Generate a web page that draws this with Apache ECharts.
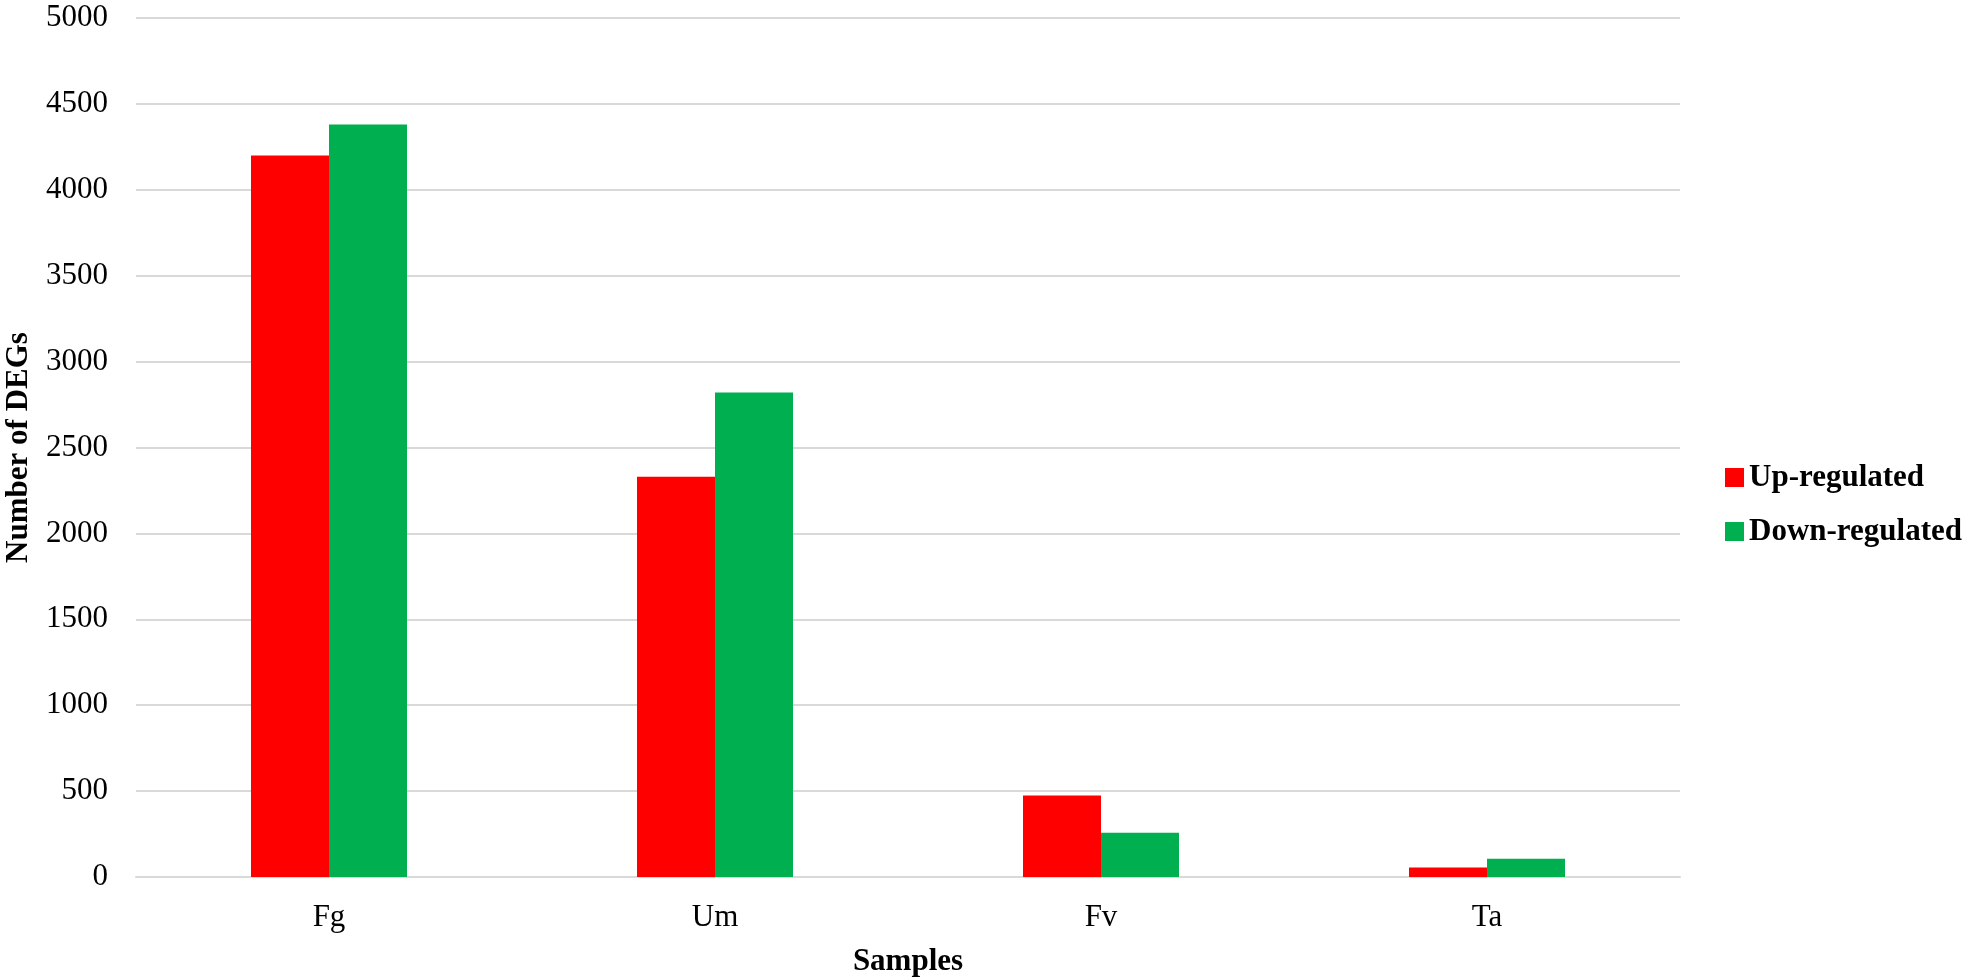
<!DOCTYPE html>
<html>
<head>
<meta charset="utf-8">
<script src="https://cdn.jsdelivr.net/npm/echarts@6/dist/echarts.min.js"></script>
<style>
  html, body { margin: 0; padding: 0; background: #fff; }
  #chart { width: 1969px; height: 978px; }
</style>
</head>
<body>
<div id="chart"></div>
<script>
var samples = ['Fg', 'Um', 'Fv', 'Ta'];
var upRegulated = [4200, 2330, 475, 55];
var downRegulated = [4380, 2820, 258, 106];

var serif = '"Liberation Serif", "Times New Roman", serif';

var option = {
    animation: false,
    backgroundColor: '#ffffff',
    textStyle: { fontFamily: serif, color: '#000' },
    grid: { left: 136, right: 289, top: 18, bottom: 101, containLabel: false, outerBoundsMode: 'none' },
    legend: {
        orient: 'vertical',
        left: 1720,
        top: 457,
        icon: 'rect',
        itemWidth: 19,
        itemHeight: 19,
        itemGap: 23,
        textStyle: { fontFamily: serif, fontSize: 31, fontWeight: 'bold', color: '#000', lineHeight: 31 },
        data: ['Up-regulated', 'Down-regulated']
    },
    xAxis: {
        type: 'category',
        data: samples,
        name: 'Samples',
        nameLocation: 'middle',
        nameGap: 69,
        nameTextStyle: { fontFamily: serif, fontSize: 31, fontWeight: 'bold', color: '#000' },
        axisLine: { lineStyle: { color: '#d9d9d9', width: 2 } },
        axisTick: { show: false },
        axisLabel: { fontFamily: serif, fontSize: 31, color: '#000', margin: 25 }
    },
    yAxis: {
        type: 'value',
        min: 0,
        max: 5000,
        interval: 500,
        name: 'Number of DEGs',
        nameLocation: 'middle',
        nameGap: 102,
        nameTextStyle: { fontFamily: serif, fontSize: 31, fontWeight: 'bold', color: '#000' },
        axisLine: { show: false },
        axisTick: { show: false },
        axisLabel: {
            fontFamily: serif, fontSize: 31, color: '#000', margin: 28,
            formatter: function (v) { return String(v); }
        },
        splitLine: { lineStyle: { color: '#d9d9d9', width: 2 } }
    },
    series: [
        {
            name: 'Up-regulated',
            type: 'bar',
            data: upRegulated,
            barWidth: 78,
            barGap: '0%',
            itemStyle: { color: '#ff0000' }
        },
        {
            name: 'Down-regulated',
            type: 'bar',
            data: downRegulated,
            barWidth: 78,
            itemStyle: { color: '#00b050' }
        }
    ]
};

echarts.init(document.getElementById('chart')).setOption(option);
</script>
</body>
</html>
